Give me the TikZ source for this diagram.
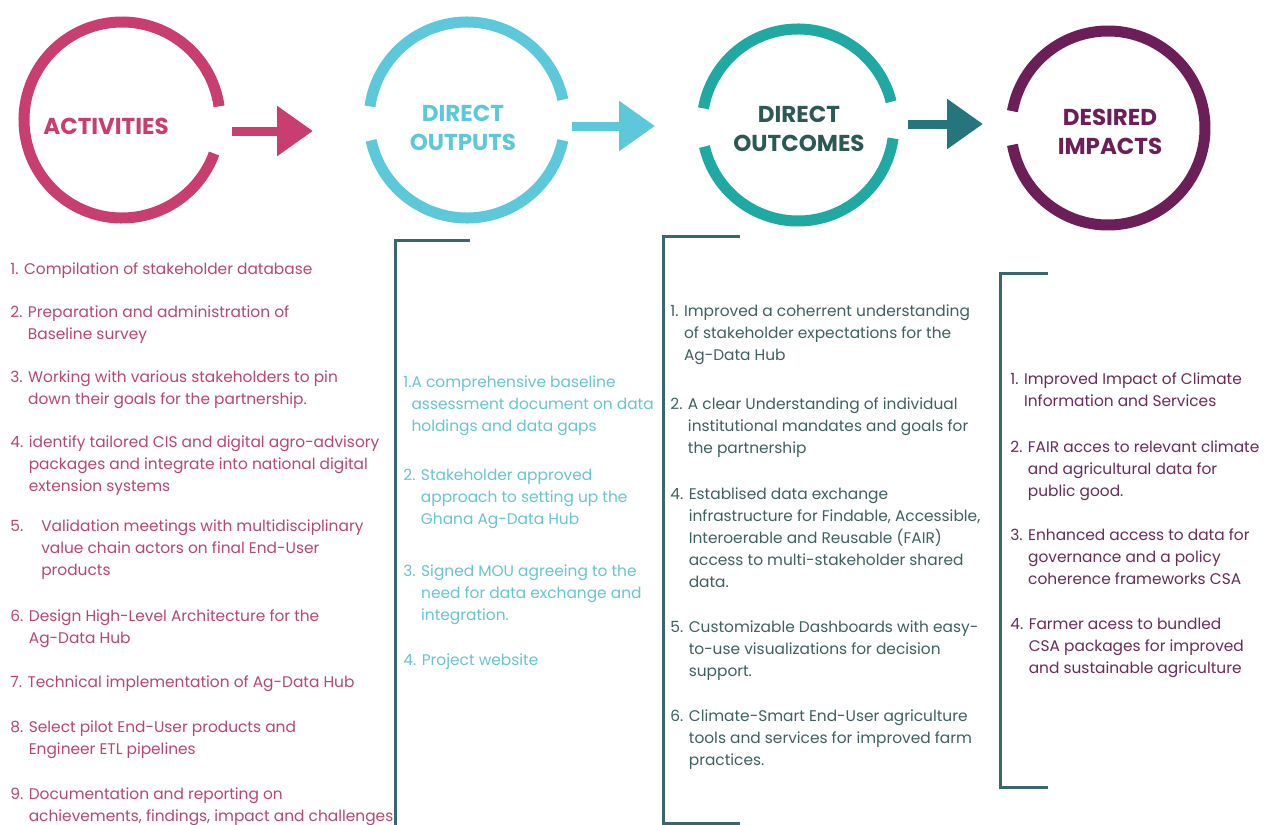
\documentclass[tikz,border=0pt]{standalone}
\usepackage{fontspec}
\setmainfont{Poppins}
\usetikzlibrary{arrows.meta}

\definecolor{actring}{RGB}{200,62,110}
\definecolor{acttext}{RGB}{182,70,118}
\definecolor{outring}{RGB}{92,200,218}
\definecolor{outtext}{RGB}{104,196,210}
\definecolor{ocring}{RGB}{32,168,163}
\definecolor{ochead}{RGB}{44,88,86}
\definecolor{octext}{RGB}{62,96,96}
\definecolor{ocarrow}{RGB}{36,118,124}
\definecolor{impring}{RGB}{108,30,88}
\definecolor{imptext}{RGB}{104,44,90}
\definecolor{brack}{RGB}{56,104,110}

% numbered entry, wrapped lines hang under the text
\newcommand{\entry}[2]{#1\begin{tabular}[t]{@{}l@{}}#2\end{tabular}}

\tikzset{
  ring/.style={line width=5.5pt},
  flow/.style={line width=4.5pt, -{Triangle[length=18pt,width=24pt]}},
  head/.style={font=\fontsize{11.5}{14.5}\selectfont\bfseries, align=center, inner sep=0},
  item/.style={font=\fontsize{7.7}{11}\selectfont, anchor=base west, inner sep=0},
  bracket/.style={line width=1.5pt, draw=brack},
}

\begin{document}
\begin{tikzpicture}[x=0.5pt, y=0.5pt]
  \useasboundingbox[fill=white] (0,0) rectangle (1266,-825);

  % ring centres
  \coordinate (actc) at (122,-120);
  \coordinate (outpc) at (467,-120);
  \coordinate (outcc) at (798,-125);
  \coordinate (impc) at (1108,-128);

  % rings, left open where the arrows pass
  \draw[ring, actring] (actc) ++(8:98) arc[start angle=8, end angle=340, radius=98];
  \draw[ring, outring]
    (outpc) ++(12:98) arc[start angle=12, end angle=172, radius=98]
    (outpc) ++(192:98) arc[start angle=192, end angle=348, radius=98];
  \draw[ring, ocring]
    (outcc) ++(14:96) arc[start angle=14, end angle=170, radius=96]
    (outcc) ++(193:96) arc[start angle=193, end angle=352, radius=96];
  \draw[ring, impring] (impc) ++(190:97) arc[start angle=190, end angle=530, radius=97];

  \node[head, text=actring] (act) at (106,-126) {ACTIVITIES};
  \node[head, text=outring] (outp) at (463,-128) {DIRECT\\OUTPUTS};
  \node[head, text=ochead] (outc) at (799,-129) {DIRECT\\OUTCOMES};
  \node[head, text=impring] (imp) at (1110,-132) {DESIRED\\IMPACTS};

  \draw[flow, actring] ([shift={(110,-11)}]actc) -- ([shift={(-154,-11)}]outpc);
  \draw[flow, outring] ([shift={(105,-6)}]outpc) -- ([shift={(-143,-1)}]outcc);
  \draw[flow, ocarrow] ([shift={(110,1)}]outcc) -- ([shift={(-125,4)}]impc);

  % brackets
  \draw[bracket] (470,-240) -- (395,-240) -- (395,-825);
  \draw[bracket] (740,-236) -- (663,-236) -- (663,-823) -- (740,-823);
  \draw[bracket] (1048,-273) -- (1000,-273) -- (1000,-787) -- (1048,-787);

  % activities
  \begin{scope}[every node/.style={item, text=acttext}]
    \node (a1) at (10,-274) {\entry{1. }{Compilation of stakeholder database}};
    \node (a2) at (10,-317) {\entry{2. }{Preparation and administration of\\Baseline survey}};
    \node (a3) at (10,-382) {\entry{3. }{Working with various stakeholders to pin\\down their goals for the partnership.}};
    \node (a4) at (10,-447) {\entry{4. }{identify tailored CIS and digital agro-advisory\\packages and integrate into national digital\\extension systems}};
    \node (a5) at (10,-531) {\entry{5.\hspace{9pt}}{Validation meetings with multidisciplinary\\value chain actors on final End-User\\products}};
    \node (a6) at (10,-621) {\entry{6. }{Design High-Level Architecture for the\\Ag-Data Hub}};
    \node (a7) at (10,-687) {\entry{7. }{Technical implementation of Ag-Data Hub}};
    \node (a8) at (10,-732) {\entry{8. }{Select pilot End-User products and\\Engineer ETL pipelines}};
    \node (a9) at (10,-799) {\entry{9. }{Documentation and reporting on\\achievements, findings, impact and challenges}};
  \end{scope}

  % direct outputs
  \begin{scope}[every node/.style={item, text=outtext}]
    \node (p1) at (403,-387) {\entry{1.}{A comprehensive baseline\\assessment document on data\\holdings and data gaps}};
    \node (p2) at (403,-480) {\entry{2. }{Stakeholder approved\\approach to setting up the\\Ghana Ag-Data Hub}};
    \node (p3) at (403,-576) {\entry{3. }{Signed MOU agreeing to the\\need for data exchange and\\integration.}};
    \node (p4) at (403,-665) {\entry{4. }{Project website}};
  \end{scope}

  % direct outcomes
  \begin{scope}[every node/.style={item, text=octext}]
    \node (c1) at (670,-316) {\entry{1. }{Improved a coherrent understanding\\of stakeholder expectations for the\\Ag-Data Hub}};
    \node (c2) at (670,-409) {\entry{2. }{A clear Understanding of individual\\institutional mandates and goals for\\the partnership}};
    \node (c4) at (670,-499) {\entry{4. }{Establised data exchange\\infrastructure for Findable, Accessible,\\Interoerable and Reusable (FAIR)\\access to multi-stakeholder shared\\data.}};
    \node (c5) at (670,-632) {\entry{5. }{Customizable Dashboards with easy-\\to-use visualizations for decision\\support.}};
    \node (c6) at (670,-721) {\entry{6. }{Climate-Smart End-User agriculture\\tools and services for improved farm\\practices.}};
  \end{scope}

  % desired impacts
  \begin{scope}[every node/.style={item, text=imptext}]
    \node (i1) at (1010,-384) {\entry{1. }{Improved Impact of Climate\\Information and Services}};
    \node (i2) at (1010,-452) {\entry{2. }{FAIR acces to relevant climate\\and agricultural data for\\public good.}};
    \node (i3) at (1010,-540) {\entry{3. }{Enhanced access to data for\\governance and a policy\\coherence frameworks CSA}};
    \node (i4) at (1010,-629) {\entry{4. }{Farmer acess to bundled\\CSA packages for improved\\and sustainable agriculture}};
  \end{scope}
\end{tikzpicture}
\end{document}
